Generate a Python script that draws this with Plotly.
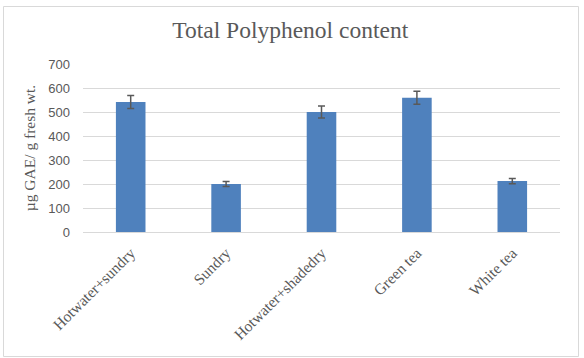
import plotly.graph_objects as go

categories = ["Hotwater+sundry", "Sundry", "Hotwater+shadedry", "Green tea", "White tea"]
values = [542, 200, 500, 559, 212]
errors = [27, 10, 25, 27, 11]
y_ticks = [0, 100, 200, 300, 400, 500, 600, 700]

W, H = 584, 358
L, R, T, B = 83, 24, 64, 126
pw, ph = W - L - R, H - T - B

fig = go.Figure()
fig.add_trace(go.Bar(
    x=categories, y=values,
    marker=dict(color="#4F81BD", line=dict(width=0)),
    error_y=dict(type="data", array=errors, visible=True, color="#595959", thickness=1.5, width=3.5),
    width=0.31,
))

def px2paper_x(p):
    return (p - L) / pw

def px2paper_y(p):
    return (H - B - p) / ph

fig.add_shape(type="rect", xref="paper", yref="paper",
              x0=px2paper_x(3.5), x1=px2paper_x(578.5), y0=px2paper_y(356.5), y1=px2paper_y(6.5),
              line=dict(color="#D9D9D9", width=1), fillcolor="rgba(0,0,0,0)", layer="below")

fig.update_layout(
    width=W, height=H,
    margin=dict(l=L, r=R, t=T, b=B, autoexpand=False),
    paper_bgcolor="white", plot_bgcolor="white",
    showlegend=False,
    title=dict(text="Total Polyphenol content", x=0.497, xanchor="center", y=1 - 30 / H, yanchor="middle",
               font=dict(family="Liberation Serif", size=23.5, color="#595959")),
    xaxis=dict(tickangle=-45, showgrid=False, showline=True, linecolor="#D9D9D9", linewidth=1,
               ticks="", ticklabelstandoff=5,
               tickfont=dict(family="Liberation Serif", size=15.5, color="#595959")),
    yaxis=dict(range=[0, 700], tickvals=y_ticks, showgrid=True, gridcolor="#D9D9D9", gridwidth=1,
               zeroline=False, showline=False, ticks="", ticklabelstandoff=12,
               tickfont=dict(family="Liberation Sans", size=13, color="#595959"),
               title=dict(text="µg GAE/ g fresh wt.", standoff=8,
                          font=dict(family="Liberation Serif", size=15.5, color="#595959"))),
)

fig.write_html("out.html")
